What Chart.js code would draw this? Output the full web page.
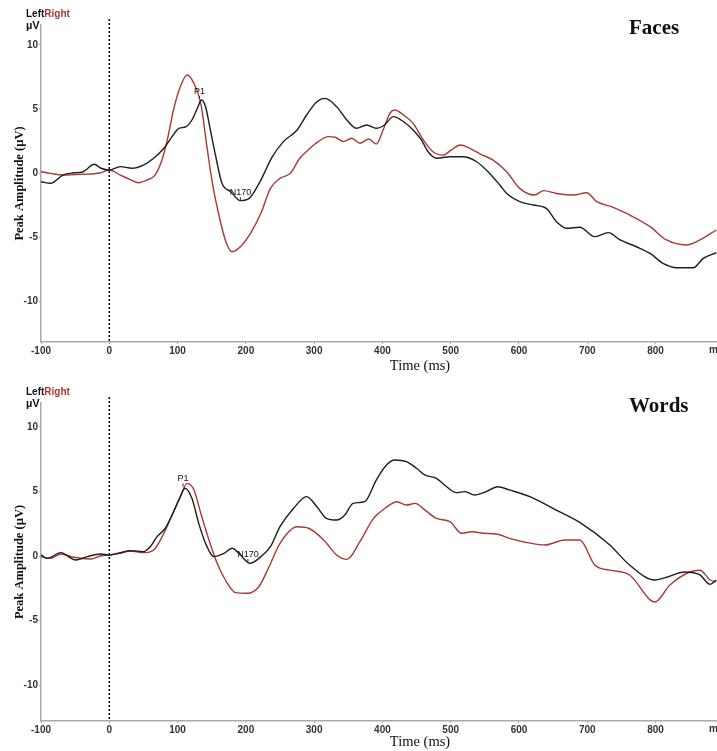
<!DOCTYPE html>
<html>
<head>
<meta charset="utf-8">
<script src="https://cdn.jsdelivr.net/npm/chart.js@4.4.1/dist/chart.umd.min.js"></script>
<style>
  html, body { margin: 0; padding: 0; background: #fff; }
  .panel { position: absolute; left: 0; width: 717px; height: 375px; }
  #facesPanel { top: 0; }
  #wordsPanel { top: 376px; }
</style>
</head>
<body>
<div class="panel" id="facesPanel"><canvas id="facesChart" width="717" height="375"></canvas></div>
<div class="panel" id="wordsPanel"><canvas id="wordsChart" width="717" height="375"></canvas></div>
<script>
'use strict';

// tick labels
const xTicks = [-100, 0, 100, 200, 300, 400, 500, 600, 700, 800];
const yTicks = [-10, -5, 0, 5, 10];

// Faces, left hemisphere (black)
const facesLeftTime = [-100, -86, -68, -54, -39, -22, -12, 0, 16, 33, 50, 65, 80, 92, 102, 112, 121, 129, 135, 141, 148, 156, 165, 178, 192, 205, 222, 238, 255, 275, 289, 304, 316, 333, 348, 362, 377, 391, 403, 416, 431, 445, 457, 467, 479, 499, 518, 538, 557, 572, 582, 601, 621, 640, 655, 670, 689, 711, 731, 748, 772, 792, 811, 831, 855, 870, 889];
const facesLeft = [-0.68, -0.8, -0.16, 0.0, 0.08, 0.68, 0.37, 0.23, 0.5, 0.37, 0.62, 1.15, 1.93, 2.84, 3.49, 3.6, 4.14, 5.05, 5.7, 5.18, 3.36, 1.27, -0.8, -1.46, -2.16, -1.98, -0.55, 1.2, 2.45, 3.36, 4.53, 5.57, 5.83, 5.18, 4.14, 3.49, 3.75, 3.49, 3.75, 4.4, 4.0, 3.36, 2.58, 1.66, 1.15, 1.27, 1.27, 0.88, -0.03, -0.94, -1.6, -2.24, -2.5, -2.76, -3.8, -4.32, -4.24, -4.97, -4.66, -5.23, -5.76, -6.28, -7.06, -7.4, -7.4, -6.67, -6.23];

// Faces, right hemisphere (red)
const facesRightTime = [-100, -86, -68, -39, -14, 0, 16, 30, 43, 55, 67, 77, 85, 94, 104, 114, 124, 134, 143, 151, 161, 171, 180, 192, 207, 222, 236, 250, 265, 279, 294, 306, 321, 331, 343, 355, 367, 380, 391, 401, 411, 418, 431, 445, 460, 474, 489, 501, 514, 528, 543, 562, 582, 601, 623, 636, 655, 680, 699, 714, 738, 762, 792, 816, 845, 865, 889];
const facesRight = [0.1, -0.03, -0.16, -0.1, 0.0, 0.23, -0.16, -0.5, -0.76, -0.55, -0.16, 1.0, 2.58, 4.92, 6.74, 7.66, 7.0, 5.44, 2.06, -0.8, -3.4, -5.4, -6.15, -5.76, -4.7, -3.15, -1.2, -0.42, -0.03, 1.15, 1.93, 2.45, 2.84, 2.79, 2.45, 2.71, 2.32, 2.66, 2.27, 3.36, 4.66, 4.92, 4.53, 3.88, 2.58, 1.66, 1.4, 1.8, 2.19, 1.93, 1.5, 1.0, 0.1, -1.2, -1.72, -1.38, -1.6, -1.72, -1.54, -2.24, -2.68, -3.28, -4.19, -5.23, -5.62, -5.23, -4.45];

// Words, left hemisphere (black)
const wordsLeftTime = [-100, -91, -71, -49, -32, -13, 0, 16, 31, 50, 60, 70, 82, 92, 102, 111, 121, 131, 141, 153, 168, 180, 192, 206, 222, 236, 250, 270, 289, 304, 318, 333, 345, 357, 374, 391, 406, 418, 435, 450, 462, 479, 494, 508, 521, 535, 552, 569, 586, 616, 653, 689, 733, 762, 799, 813, 843, 865, 880, 889];
const wordsLeft = [0.08, -0.18, 0.26, -0.31, -0.05, 0.16, 0.08, 0.26, 0.41, 0.34, 0.72, 1.5, 2.15, 3.18, 4.34, 5.25, 4.47, 2.53, 0.98, -0.05, 0.21, 0.6, 0.08, -0.57, -0.05, 0.72, 2.27, 3.7, 4.6, 3.82, 2.92, 2.79, 3.18, 4.08, 4.21, 5.89, 7.05, 7.44, 7.31, 6.8, 6.28, 6.02, 5.37, 4.91, 4.99, 4.73, 4.99, 5.37, 5.12, 4.6, 3.6, 2.6, 0.85, -0.7, -1.86, -1.7, -1.24, -1.47, -2.2, -1.86];

// Words, right hemisphere (red)
const wordsRightTime = [-100, -86, -71, -52, -27, -13, 0, 16, 31, 50, 65, 80, 92, 104, 114, 124, 134, 146, 158, 170, 185, 202, 219, 234, 250, 275, 292, 314, 333, 348, 367, 387, 404, 421, 435, 448, 462, 479, 499, 516, 531, 548, 567, 586, 616, 638, 667, 689, 711, 733, 762, 792, 799, 821, 850, 865, 880, 889];
const wordsRight = [-0.05, -0.18, 0.16, -0.1, -0.23, 0.0, 0.08, 0.21, 0.39, 0.26, 0.47, 1.76, 3.18, 4.6, 5.63, 5.12, 3.31, 1.24, -0.57, -1.86, -2.84, -2.89, -2.38, -0.83, 0.98, 2.27, 2.15, 1.24, 0.08, -0.26, 1.11, 2.92, 3.7, 4.21, 3.95, 4.08, 3.57, 2.92, 2.66, 1.76, 1.88, 1.76, 1.71, 1.37, 1.0, 0.85, 1.24, 1.24, -0.7, -1.1, -1.47, -3.4, -3.57, -2.25, -1.24, -1.1, -1.86, -2.0];

// component labels: [text, time, amplitude]
const facesPeaks = [['P1', 132, 6.4], ['N170', 192, -1.5]];
const wordsPeaks = [['P1', 108, 6.0], ['N170', 203, 0.15]];

const leftColor = '#1e1e1e';
const rightColor = '#a83a33';
const sans = '"Liberation Sans", Arial, sans-serif';
const serif = '"Liberation Serif", "Times New Roman", serif';

function toPoints(times, values) {
    return times.map((t, i) => ({x: t, y: values[i]}));
}

const decorPlugin = {
    id: 'decor',
    beforeDatasetsDraw(chart) {
        const {ctx, chartArea, scales} = chart;
        const x0 = scales.x.getPixelForValue(0);
        ctx.save();
        ctx.strokeStyle = '#111';
        ctx.lineWidth = 1.6;
        ctx.setLineDash([2, 2]);
        ctx.beginPath();
        ctx.moveTo(x0, chartArea.top - 6);
        ctx.lineTo(x0, chartArea.bottom);
        ctx.stroke();
        ctx.restore();
    },
    afterDraw(chart, args, opts) {
        const {ctx, chartArea, scales} = chart;
        ctx.save();
        ctx.textBaseline = 'middle';
        // Left / Right key and unit
        ctx.font = 'bold 10px ' + sans;
        ctx.textAlign = 'left';
        ctx.fillStyle = '#111';
        ctx.fillText('Left', 26, chartArea.top - 11);
        const w = ctx.measureText('Left').width;
        ctx.fillStyle = rightColor;
        ctx.fillText('Right', 26 + w, chartArea.top - 11);
        ctx.fillStyle = '#111';
        ctx.font = 'bold 11px ' + sans;
        ctx.fillText('\u00b5V', 26, chartArea.top + 1);
        // panel title
        ctx.font = 'bold 21px ' + serif;
        ctx.fillText(opts.title, 629, chartArea.top + 4);
        // x unit at the end of the axis
        ctx.font = 'bold 10px ' + sans;
        ctx.fillStyle = '#333';
        ctx.fillText('ms', 709, chartArea.bottom + 8);
        // x title
        ctx.font = '14.5px ' + serif;
        ctx.fillStyle = '#111';
        ctx.textAlign = 'center';
        ctx.fillText('Time (ms)', 420, 366);
        // component labels
        ctx.font = '9px ' + sans;
        ctx.strokeStyle = '#333';
        ctx.lineWidth = 1;
        opts.peaks.forEach(p => {
            const px = scales.x.getPixelForValue(p[1]);
            const py = scales.y.getPixelForValue(p[2]);
            ctx.fillStyle = '#111';
            ctx.fillText(p[0], px, py);
            ctx.beginPath();
            ctx.moveTo(px, py + 5);
            ctx.lineTo(px, py + 8);
            ctx.stroke();
        });
        ctx.restore();
    }
};

function makeChart(canvasId, title, leftT, leftV, rightT, rightV, peaks, yMin, yMax, padTop, xHeight) {
    return new Chart(document.getElementById(canvasId), {
        type: 'line',
        data: {
            datasets: [{
                label: 'Left',
                data: toPoints(leftT, leftV),
                borderColor: leftColor,
                borderWidth: 1.4,
                pointRadius: 0,
                cubicInterpolationMode: 'monotone'
            }, {
                label: 'Right',
                data: toPoints(rightT, rightV),
                borderColor: rightColor,
                borderWidth: 1.4,
                pointRadius: 0,
                cubicInterpolationMode: 'monotone'
            }]
        },
        options: {
            responsive: false,
            animation: false,
            layout: { padding: { top: padTop, right: 0, left: 0, bottom: 0 } },
            scales: {
                x: {
                    type: 'linear',
                    min: -100,
                    max: 890,
                    afterBuildTicks: s => { s.ticks = xTicks.map(v => ({value: v})); },
                    afterFit: s => { s.height = xHeight; },
                    ticks: {
                        color: '#333',
                        font: { family: sans, size: 10, weight: 'bold' },
                        padding: 1,
                        maxRotation: 0
                    },
                    grid: { drawOnChartArea: false, tickLength: 2, color: '#aaa' },
                    border: { color: '#aaa', width: 1.5 }
                },
                y: {
                    min: yMin,
                    max: yMax,
                    afterBuildTicks: s => { s.ticks = yTicks.map(v => ({value: v})); },
                    afterFit: s => { s.width = 41; },
                    ticks: {
                        color: '#333',
                        font: { family: sans, size: 10, weight: 'bold' },
                        padding: 1
                    },
                    grid: { drawOnChartArea: false, tickLength: 2, color: '#aaa' },
                    border: { color: '#aaa', width: 1.5 },
                    title: {
                        display: true,
                        text: 'Peak Amplitude (\u00b5V)',
                        color: '#111',
                        font: { family: serif, size: 12.5, weight: 'bold' },
                        padding: { top: 12, bottom: 0 }
                    }
                }
            },
            plugins: {
                legend: { display: false },
                tooltip: { enabled: false },
                decor: { title: title, peaks: peaks }
            }
        },
        plugins: [decorPlugin]
    });
}

makeChart('facesChart', 'Faces', facesLeftTime, facesLeft, facesRightTime, facesRight, facesPeaks, -13.2, 11.56, 25, 33);
makeChart('wordsChart', 'Words', wordsLeftTime, wordsLeft, wordsRightTime, wordsRight, wordsPeaks, -12.79, 11.86, 27, 30);
</script>
</body>
</html>
